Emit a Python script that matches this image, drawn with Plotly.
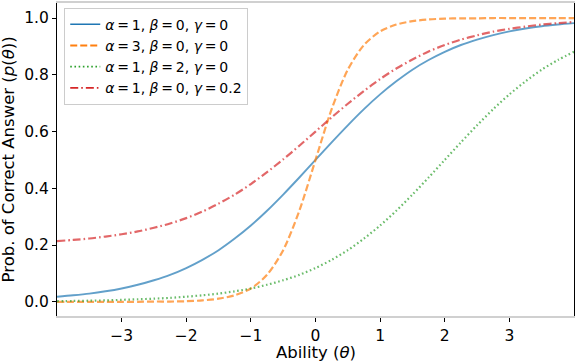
import plotly.graph_objects as go

# ability grid (theta) and curve values
theta = [-4.0, -3.75, -3.5, -3.25, -3.0, -2.75, -2.5, -2.25, -2.0, -1.75, -1.5,
         -1.25, -1.0, -0.75, -0.5, -0.25, 0.0, 0.25, 0.5, 0.75, 1.0, 1.25, 1.5,
         1.75, 2.0, 2.25, 2.5, 2.75, 3.0, 3.25, 3.5, 3.75, 4.0]

p_a1_b0_g0 = [0.018, 0.023, 0.029, 0.037, 0.047, 0.060, 0.076, 0.095, 0.119, 0.148, 0.182,
              0.223, 0.269, 0.321, 0.378, 0.438, 0.500, 0.562, 0.622, 0.679, 0.731, 0.777,
              0.818, 0.852, 0.881, 0.905, 0.924, 0.940, 0.953, 0.963, 0.971, 0.977, 0.982]

p_a3_b0_g0 = [0.000, 0.000, 0.000, 0.000, 0.000, 0.000, 0.001, 0.001, 0.002, 0.005, 0.011,
              0.023, 0.047, 0.095, 0.182, 0.321, 0.500, 0.679, 0.818, 0.905, 0.953, 0.977,
              0.989, 0.995, 0.998, 0.999, 0.999, 1.000, 1.000, 1.000, 1.000, 1.000, 1.000]

p_a1_b2_g0 = [0.002, 0.003, 0.004, 0.005, 0.007, 0.009, 0.011, 0.014, 0.018, 0.023, 0.029,
              0.037, 0.047, 0.060, 0.076, 0.095, 0.119, 0.148, 0.182, 0.223, 0.269, 0.321,
              0.378, 0.438, 0.500, 0.562, 0.622, 0.679, 0.731, 0.777, 0.818, 0.852, 0.881]

p_a1_b0_g02 = [0.214, 0.218, 0.223, 0.230, 0.238, 0.248, 0.261, 0.276, 0.295, 0.318, 0.346,
               0.378, 0.415, 0.457, 0.502, 0.550, 0.600, 0.650, 0.698, 0.743, 0.785, 0.822,
               0.854, 0.882, 0.905, 0.924, 0.939, 0.952, 0.962, 0.970, 0.977, 0.982, 0.986]

# thin spaces around "=" like matplotlib mathtext
labels = ["<i>α</i>\u2009=\u20091, <i>β</i>\u2009=\u20090, <i>γ</i>\u2009=\u20090",
          "<i>α</i>\u2009=\u20093, <i>β</i>\u2009=\u20090, <i>γ</i>\u2009=\u20090",
          "<i>α</i>\u2009=\u20091, <i>β</i>\u2009=\u20092, <i>γ</i>\u2009=\u20090",
          "<i>α</i>\u2009=\u20091, <i>β</i>\u2009=\u20090, <i>γ</i>\u2009=\u20090.2"]

series = [p_a1_b0_g0, p_a3_b0_g0, p_a1_b2_g0, p_a1_b0_g02]
colors = ["31,119,180", "255,127,14", "44,160,44", "214,39,40"]
dashes = ["solid", "7px,3px", "1.6px,2.6px", "8px,3px,1.6px,3px"]
widths = [1.9, 2.2, 2.2, 2.2]

fig = go.Figure()
for ys, c, d, w in zip(series, colors, dashes, widths):
    fig.add_trace(go.Scatter(x=theta, y=ys, mode="lines", showlegend=False,
                             line=dict(color="rgba(%s,0.7)" % c, dash=d, width=w,
                                       shape="spline", smoothing=0.8)))
# legend entries in full colour
for lab, c, d, w in zip(labels, colors, dashes, widths):
    fig.add_trace(go.Scatter(x=[None], y=[None], mode="lines", name=lab,
                             line=dict(color="rgb(%s)" % c, dash=d, width=w - 0.4)))

fig.update_layout(
    width=576, height=364,
    margin=dict(l=57, r=2, t=3, b=48),
    paper_bgcolor="white", plot_bgcolor="white",
    font=dict(family="DejaVu Sans", size=15.5, color="black"),
    legend=dict(x=0.014, y=0.985, xanchor="left", yanchor="top",
                bgcolor="white", bordercolor="#cccccc", borderwidth=1,
                font=dict(size=14), itemwidth=30),
)
fig.update_xaxes(range=[-4, 4], tickvals=[-3, -2, -1, 0, 1, 2, 3],
                 showgrid=False, zeroline=False, automargin=False,
                 showline=True, linecolor="#d0d0d0", linewidth=2, mirror=True,
                 ticks="outside", ticklen=4, tickcolor="black")
fig.update_yaxes(range=[-0.05, 1.053], tickvals=[0, 0.2, 0.4, 0.6, 0.8, 1.0],
                 tickformat=".1f", showgrid=False, zeroline=False, automargin=False,
                 showline=True, linecolor="black", linewidth=1.2, mirror=True,
                 ticks="outside", ticklen=4, tickcolor="black")

# axis titles as annotations so they sit where the reference has them
fig.add_annotation(text="Ability (<i>θ</i>)", xref="paper", yref="paper",
                   x=0.5, y=-0.117, yanchor="middle", showarrow=False,
                   font=dict(size=16.5))
fig.add_annotation(text="Prob. of Correct Answer (<i>p</i>(<i>θ</i>))",
                   xref="paper", yref="paper", x=-0.093, y=0.5,
                   xanchor="center", yanchor="middle", textangle=-90,
                   showarrow=False, font=dict(size=16.5))

# drop the default page margin so the figure sits at the window corner
fig.write_html("out.html", config={"displayModeBar": False},
               post_script="document.body.style.margin='0';")
